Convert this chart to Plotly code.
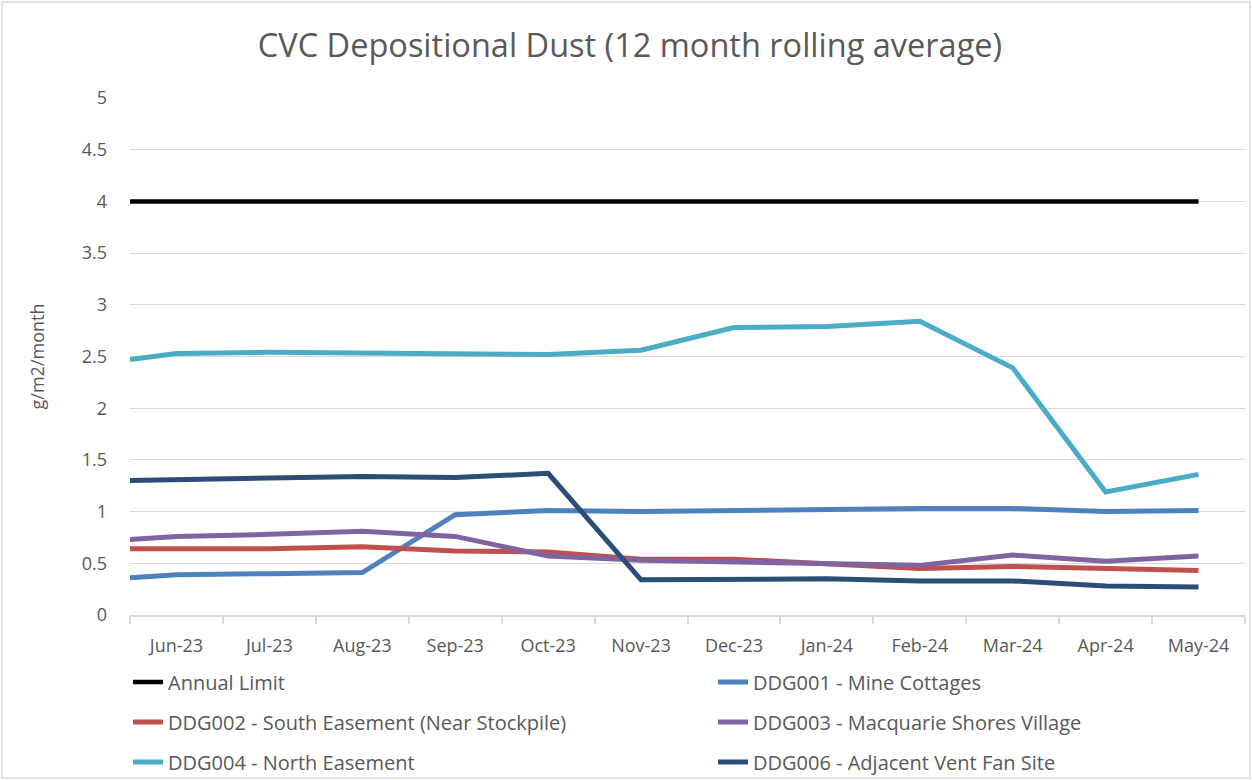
import plotly.graph_objects as go

# ---------------- data ----------------
months = ["Jun-23", "Jul-23", "Aug-23", "Sep-23", "Oct-23", "Nov-23",
          "Dec-23", "Jan-24", "Feb-24", "Mar-24", "Apr-24", "May-24"]
month_pos = list(range(1, 13))
# first reading sits on the left edge of the axis, the rest on month centres
x_pos = [0.5] + month_pos

annual_limit = [4, 4, 4, 4, 4, 4, 4, 4, 4, 4, 4, 4, 4]
ddg001 = [0.36, 0.39, 0.40, 0.41, 0.97, 1.01, 1.00, 1.01, 1.03, 1.03, 1.03, 1.00, 1.01]
ddg002 = [0.64, 0.64, 0.64, 0.66, 0.62, 0.61, 0.54, 0.54, 0.50, 0.45, 0.47, 0.45, 0.43]
ddg003 = [0.73, 0.76, 0.78, 0.81, 0.76, 0.57, 0.53, 0.51, 0.50, 0.48, 0.58, 0.52, 0.57]
ddg004 = [2.47, 2.53, 2.54, 2.53, 2.53, 2.52, 2.56, 2.78, 2.79, 2.84, 2.39, 1.19, 1.36]
ddg006 = [1.30, 1.31, 1.32, 1.34, 1.33, 1.37, 0.34, 0.34, 0.35, 0.33, 0.33, 0.28, 0.27]

series = [
    ("Annual Limit", annual_limit, "#000000", 4.5),
    ("DDG001 - Mine Cottages", ddg001, "#4F81BD", 5),
    ("DDG002 - South Easement (Near Stockpile)", ddg002, "#C0504D", 5),
    ("DDG003 - Macquarie Shores Village", ddg003, "#8064A2", 5),
    ("DDG004 - North Easement", ddg004, "#4BACC6", 5),
    ("DDG006 - Adjacent Vent Fan Site", ddg006, "#2C4D75", 5),
]

# ---------------- layout constants ----------------
W, H = 1252, 780
ML, MR, MT, MB = 130, 7, 98, 165
FONT = "Open Sans"
TXT = "#595959"
GRID = "#D9D9D9"

# legend slots (left px of item, centre y px)
legend_slots = [(128, 682), (713, 682), (128, 722), (713, 722), (128, 762), (713, 762)]

fig = go.Figure()
for i, (name, vals, color, lw) in enumerate(series):
    lg = "legend" if i == 0 else f"legend{i+1}"
    fig.add_trace(go.Scatter(
        x=x_pos, y=vals, name=name, mode="lines",
        line=dict(color=color, width=lw),
        legend=lg, hoverinfo="skip",
    ))

layout_legends = {}
for i, (lx, ly) in enumerate(legend_slots):
    key = "legend" if i == 0 else f"legend{i+1}"
    layout_legends[key] = dict(
        xref="container", yref="container",
        x=lx / W, y=1 - ly / H, xanchor="left", yanchor="middle",
        orientation="h", bgcolor="rgba(0,0,0,0)", borderwidth=0,
        font=dict(family=FONT, size=20, color=TXT),
    )

plot_w = W - ML - MR
plot_h = H - MT - MB

fig.update_layout(
    width=W, height=H,
    margin=dict(l=ML, r=MR, t=MT, b=MB, pad=0, autoexpand=False),
    paper_bgcolor="white", plot_bgcolor="white",
    font=dict(family=FONT, color=TXT),
    title=dict(
        text="CVC Depositional Dust (12 month rolling average)",
        xref="container", yref="container", x=630 / W, y=1 - 46 / H,
        xanchor="center", yanchor="middle",
        font=dict(family=FONT, size=32.5, color=TXT),
    ),
    xaxis=dict(
        range=[0.5, 12.5], tickmode="array", tickvals=month_pos, ticktext=months,
        ticks="", showgrid=False, zeroline=False, automargin=False,
        showline=True, linecolor=GRID, linewidth=1.5,
        minor=dict(tick0=0.5, dtick=1, ticks="outside", ticklen=7,
                   tickcolor=GRID, tickwidth=1.5, showgrid=False),
        tickfont=dict(family=FONT, size=18, color=TXT),
        ticklabelstandoff=14,
    ),
    yaxis=dict(
        range=[0, 5], dtick=0.5, tick0=0, showgrid=True, gridcolor=GRID,
        gridwidth=1.3, zeroline=False, showline=False, ticks="", automargin=False,
        tickfont=dict(family=FONT, size=18, color=TXT),
        ticklabelstandoff=22,
        title=dict(text="g/m2/month", font=dict(family=FONT, size=18, color=TXT),
                   standoff=32),
    ),
    shapes=[dict(
        type="rect", xref="paper", yref="paper",
        x0=(2 - ML) / plot_w, x1=(W - 2 - ML) / plot_w,
        y0=(H - MB - (H - 2)) / plot_h, y1=(H - MB - 2) / plot_h,
        line=dict(color=GRID, width=1.3), fillcolor="rgba(0,0,0,0)", layer="below",
    )],
    showlegend=True,
    **layout_legends,
)

fig.write_html(
    "out.html",
    config={"displayModeBar": False},
    post_script="document.body.style.margin='0px';document.body.style.overflow='hidden';",
)
